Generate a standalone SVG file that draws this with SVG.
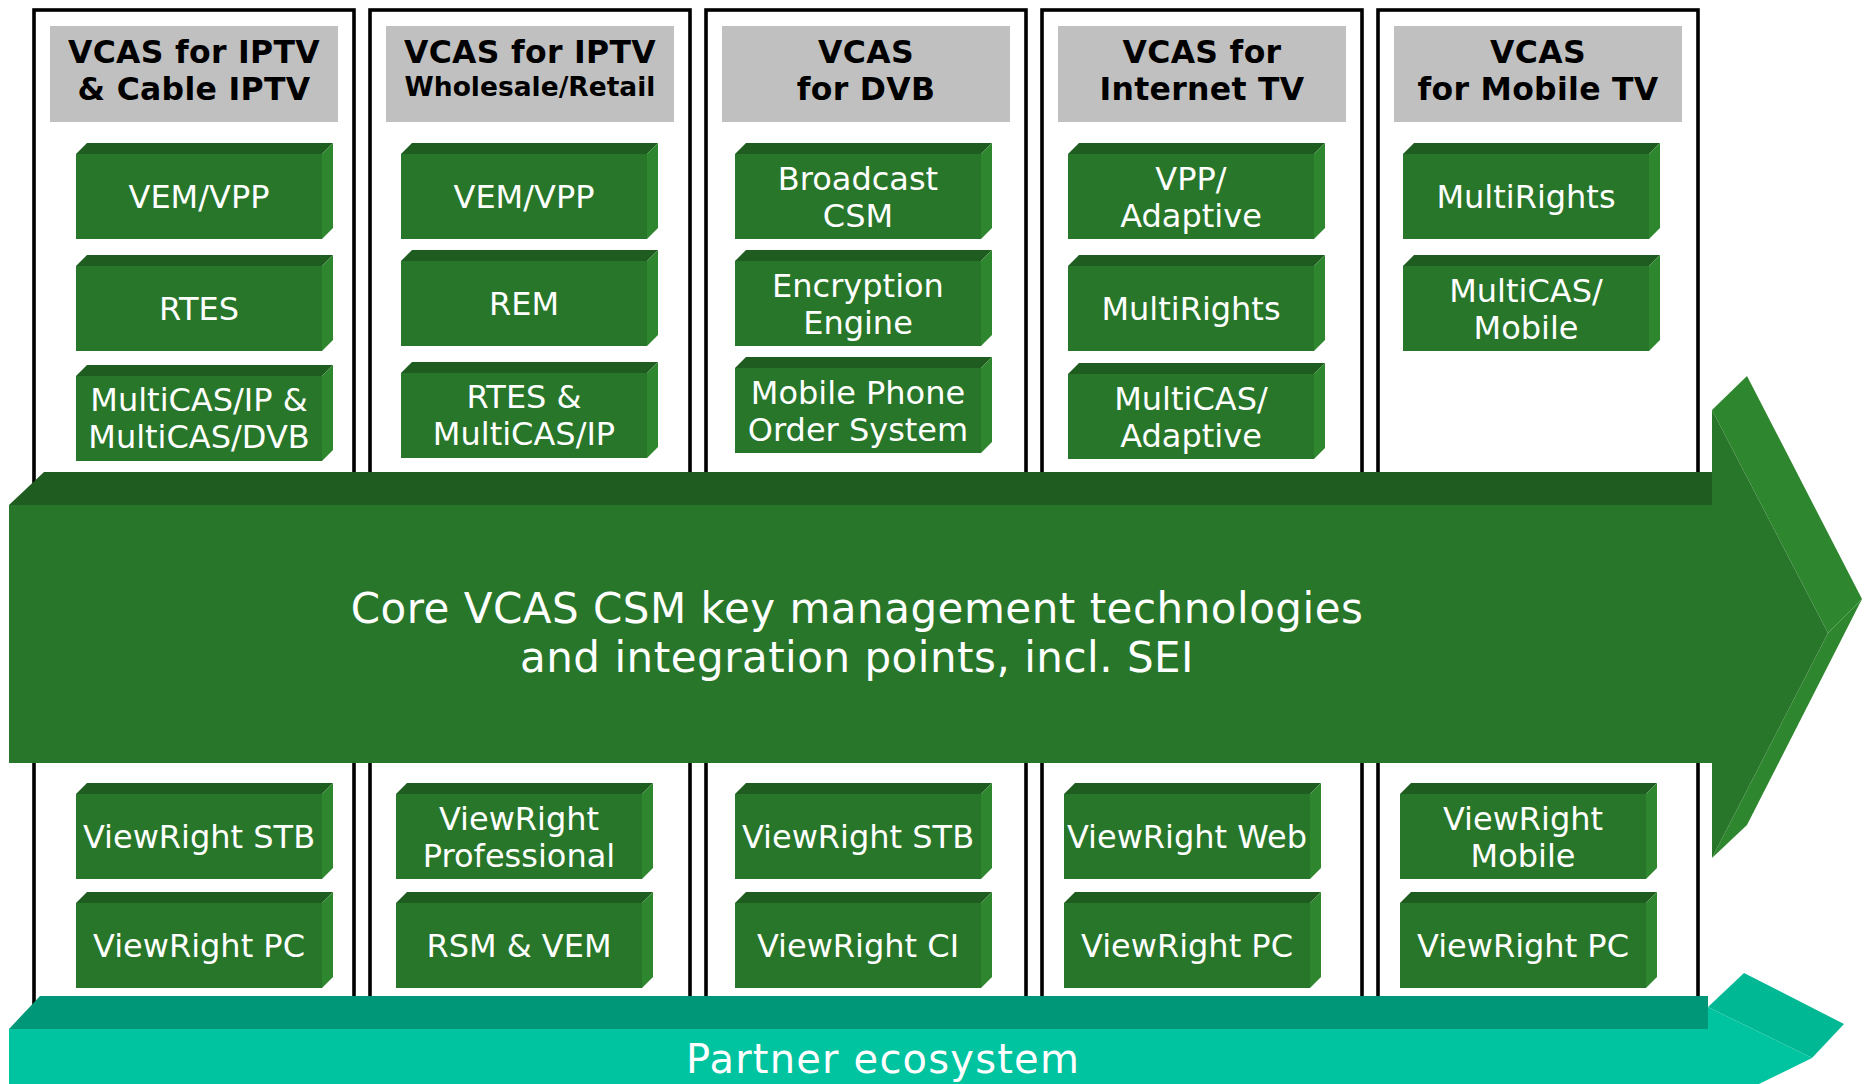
<svg xmlns="http://www.w3.org/2000/svg" xmlns:xlink="http://www.w3.org/1999/xlink" width="1865" height="1084" viewBox="0 0 1865 1084">
<style>
.col{fill:#ffffff;stroke:#000000;stroke-width:3.6}
.hdr{fill:#c0c0c0}
.ht{font-family:"DejaVu Sans",sans-serif;font-weight:bold;font-size:31.5px;fill:#000;text-anchor:middle;letter-spacing:0.3px}
.hs{font-size:26.5px;letter-spacing:0}
.bt{font-family:"DejaVu Sans",sans-serif;font-size:32px;fill:#fff;text-anchor:middle}
.front{fill:#28762a}
.topf{fill:#1f5c20}
.side{fill:#2e862e}
.main{font-family:"DejaVu Sans",sans-serif;font-size:42px;fill:#fff;text-anchor:middle;letter-spacing:0.5px}
.part{font-family:"DejaVu Sans",sans-serif;font-size:40px;fill:#fff;text-anchor:middle;letter-spacing:1.2px}
</style>
<defs>
<g id="blk">
<rect class="front" x="0" y="0" width="246" height="85"/>
<polygon class="topf" points="0,0 11,-11 257,-11 246,0"/>
<polygon class="side" points="246,0 257,-11 257,74 246,85"/>
</g>
</defs>

<g id="columns">
<g id="col1"><rect class="col" x="34" y="10" width="320" height="1010"/><rect class="hdr" x="50" y="26" width="288" height="96"/><text class="ht" x="194" y="63">VCAS for IPTV</text><text class="ht" x="194" y="100">&amp; Cable IPTV</text></g>
<g id="col2"><rect class="col" x="370" y="10" width="320" height="1010"/><rect class="hdr" x="386" y="26" width="288" height="96"/><text class="ht" x="530" y="63">VCAS for IPTV</text><text class="ht hs" x="530" y="96">Wholesale/Retail</text></g>
<g id="col3"><rect class="col" x="706" y="10" width="320" height="1010"/><rect class="hdr" x="722" y="26" width="288" height="96"/><text class="ht" x="866" y="63">VCAS</text><text class="ht" x="866" y="100">for DVB</text></g>
<g id="col4"><rect class="col" x="1042" y="10" width="320" height="1010"/><rect class="hdr" x="1058" y="26" width="288" height="96"/><text class="ht" x="1202" y="63">VCAS for</text><text class="ht" x="1202" y="100">Internet TV</text></g>
<g id="col5"><rect class="col" x="1378" y="10" width="320" height="1010"/><rect class="hdr" x="1394" y="26" width="288" height="96"/><text class="ht" x="1538" y="63">VCAS</text><text class="ht" x="1538" y="100">for Mobile TV</text></g>
</g>

<g id="top-blocks">
<g id="c1-vem"><use xlink:href="#blk" x="76" y="154"/><text class="bt" x="199" y="208">VEM/VPP</text></g>
<g id="c1-rtes"><use xlink:href="#blk" x="76" y="266"/><text class="bt" x="199" y="320">RTES</text></g>
<g id="c1-multicas"><use xlink:href="#blk" x="76" y="376"/><text class="bt" x="199" y="411">MultiCAS/IP &amp;</text><text class="bt" x="199" y="448">MultiCAS/DVB</text></g>

<g id="c2-vem"><use xlink:href="#blk" x="401" y="154"/><text class="bt" x="524" y="208">VEM/VPP</text></g>
<g id="c2-rem"><use xlink:href="#blk" x="401" y="261"/><text class="bt" x="524" y="315">REM</text></g>
<g id="c2-rtes"><use xlink:href="#blk" x="401" y="373"/><text class="bt" x="524" y="408">RTES &amp;</text><text class="bt" x="524" y="445">MultiCAS/IP</text></g>

<g id="c3-bcsm"><use xlink:href="#blk" x="735" y="154"/><text class="bt" x="858" y="190">Broadcast</text><text class="bt" x="858" y="227">CSM</text></g>
<g id="c3-enc"><use xlink:href="#blk" x="735" y="261"/><text class="bt" x="858" y="297">Encryption</text><text class="bt" x="858" y="334">Engine</text></g>
<g id="c3-mobile"><use xlink:href="#blk" x="735" y="368"/><text class="bt" x="858" y="404">Mobile Phone</text><text class="bt" x="858" y="441">Order System</text></g>

<g id="c4-vpp"><use xlink:href="#blk" x="1068" y="154"/><text class="bt" x="1191" y="190">VPP/</text><text class="bt" x="1191" y="227">Adaptive</text></g>
<g id="c4-mr"><use xlink:href="#blk" x="1068" y="266"/><text class="bt" x="1191" y="320">MultiRights</text></g>
<g id="c4-mca"><use xlink:href="#blk" x="1068" y="374"/><text class="bt" x="1191" y="410">MultiCAS/</text><text class="bt" x="1191" y="447">Adaptive</text></g>

<g id="c5-mr"><use xlink:href="#blk" x="1403" y="154"/><text class="bt" x="1526" y="208">MultiRights</text></g>
<g id="c5-mcm"><use xlink:href="#blk" x="1403" y="266"/><text class="bt" x="1526" y="302">MultiCAS/</text><text class="bt" x="1526" y="339">Mobile</text></g>
</g>

<g id="bottom-blocks">
<g id="c1-stb"><use xlink:href="#blk" x="76" y="794"/><text class="bt" x="199" y="848">ViewRight STB</text></g>
<g id="c1-pc"><use xlink:href="#blk" x="76" y="903"/><text class="bt" x="199" y="957">ViewRight PC</text></g>
<g id="c2-pro"><use xlink:href="#blk" x="396" y="794"/><text class="bt" x="519" y="830">ViewRight</text><text class="bt" x="519" y="867">Professional</text></g>
<g id="c2-rsm"><use xlink:href="#blk" x="396" y="903"/><text class="bt" x="519" y="957">RSM &amp; VEM</text></g>
<g id="c3-stb"><use xlink:href="#blk" x="735" y="794"/><text class="bt" x="858" y="848">ViewRight STB</text></g>
<g id="c3-ci"><use xlink:href="#blk" x="735" y="903"/><text class="bt" x="858" y="957">ViewRight CI</text></g>
<g id="c4-web"><use xlink:href="#blk" x="1064" y="794"/><text class="bt" x="1187" y="848">ViewRight Web</text></g>
<g id="c4-pc"><use xlink:href="#blk" x="1064" y="903"/><text class="bt" x="1187" y="957">ViewRight PC</text></g>
<g id="c5-mob"><use xlink:href="#blk" x="1400" y="794"/><text class="bt" x="1523" y="830">ViewRight</text><text class="bt" x="1523" y="867">Mobile</text></g>
<g id="c5-pc"><use xlink:href="#blk" x="1400" y="903"/><text class="bt" x="1523" y="957">ViewRight PC</text></g>
</g>

<g id="core-arrow">
<polygon class="topf" points="9,505 44,472 1712,472 1712,505"/>
<polygon class="side" points="1712,410 1747,376 1862,599 1828,633"/>
<polygon class="side" points="1828,633 1862,599 1747,825 1712,858"/>
<polygon class="front" points="9,505 1712,505 1712,410 1828,633 1712,858 1712,763 9,763"/>
<text class="main" x="857" y="623">Core VCAS CSM key management technologies</text>
<text class="main" x="857" y="672">and integration points, incl. SEI</text>
</g>

<g id="partner-arrow">
<polygon fill="#009678" points="9,1029 40,996 1708,996 1708,1029"/>
<polygon fill="#00b894" points="1708,1007 1744,973 1844,1024 1812,1058"/>
<polygon fill="#00c39f" points="9,1029 1708,1029 1708,1007 1812,1058 1708,1109 9,1109"/>
<text class="part" x="883" y="1073">Partner ecosystem</text>
</g>
</svg>
